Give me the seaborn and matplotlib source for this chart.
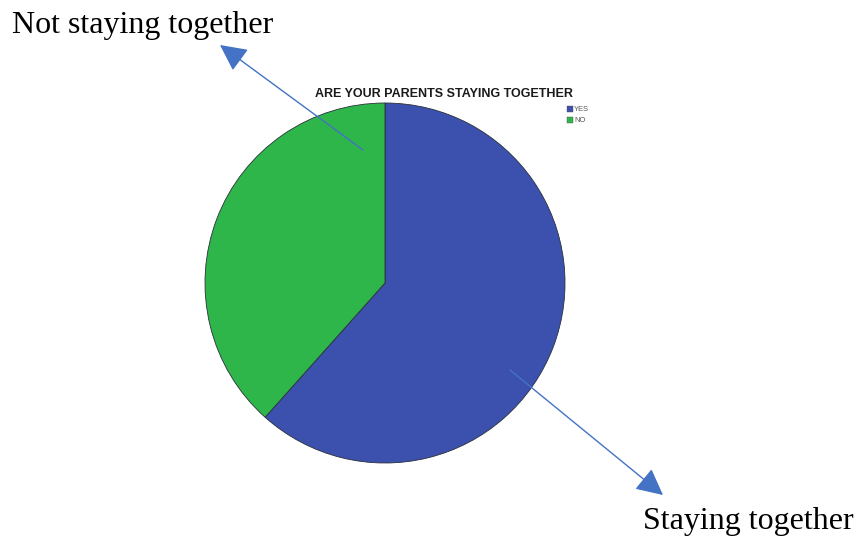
import matplotlib
matplotlib.use("Agg")
import matplotlib.pyplot as plt
import seaborn as sns

# Share of respondents whose parents are staying together
categories = ["YES", "NO"]
shares = [61.6, 38.4]
slice_colors = ["#3c51ae", "#2eb64b"]
chart_title = "ARE YOUR PARENTS STAYING TOGETHER"
callout_labels = ["Staying together", "Not staying together"]

sns.set_theme(style="white")
plt.rcParams["font.family"] = ["Liberation Sans", "DejaVu Sans"]

W, H = 857, 540
fig = plt.figure(figsize=(W / 100, H / 100), dpi=100)
fig.patch.set_facecolor("white")

# pie axes: centre (385, 283) from top-left, radius 180 px
cx, cy, r = 385, 283, 180
ax = fig.add_axes([(cx - r) / W, (H - cy - r) / H, 2 * r / W, 2 * r / H])
ax.pie(shares, colors=slice_colors, startangle=90, counterclock=False,
       wedgeprops=dict(edgecolor="#2a2f3a", linewidth=0.6))
ax.set_xlim(-1.0, 1.0)
ax.set_ylim(-1.0, 1.0)
ax.axis("off")

# chart title
fig.text(443.5 / W, 1 - 94 / H, chart_title, ha="center", va="center",
         fontsize=9.0, fontweight="bold", color="#1a1a1a")

# small legend squares
for i, (lab, col) in enumerate(zip(categories, slice_colors)):
    y = 1 - (109.5 + i * 10.5) / H
    fig.patches.append(plt.Rectangle((567 / W, y - 3 / H), 6 / W, 6 / H,
                                     transform=fig.transFigure, facecolor=col,
                                     edgecolor="#555555", linewidth=0.3))
    fig.text(574 / W, y, lab, ha="left", va="center", fontsize=5.4,
             color="#555555")

# call-out arrows and labels
arrow_style = dict(arrowstyle="-|>,head_length=1.1,head_width=0.55",
                   color="#4472c4", lw=1.0, shrinkA=0, shrinkB=0)
fig.add_artist(matplotlib.patches.FancyArrowPatch(
    (510 / W, 1 - 370 / H), (663 / W, 1 - 495 / H),
    transform=fig.transFigure, mutation_scale=15, **arrow_style))
fig.add_artist(matplotlib.patches.FancyArrowPatch(
    (363 / W, 1 - 150 / H), (220 / W, 1 - 45 / H),
    transform=fig.transFigure, mutation_scale=15, **arrow_style))

fig.text(12 / W, 1 - 25 / H, callout_labels[1], ha="left", va="center",
         fontsize=23, family=["Liberation Serif"], color="black")
fig.text(643 / W, 1 - 522 / H, callout_labels[0], ha="left", va="center",
         fontsize=23, family=["Liberation Serif"], color="black")

fig.savefig("out.png", dpi=100, facecolor="white")
